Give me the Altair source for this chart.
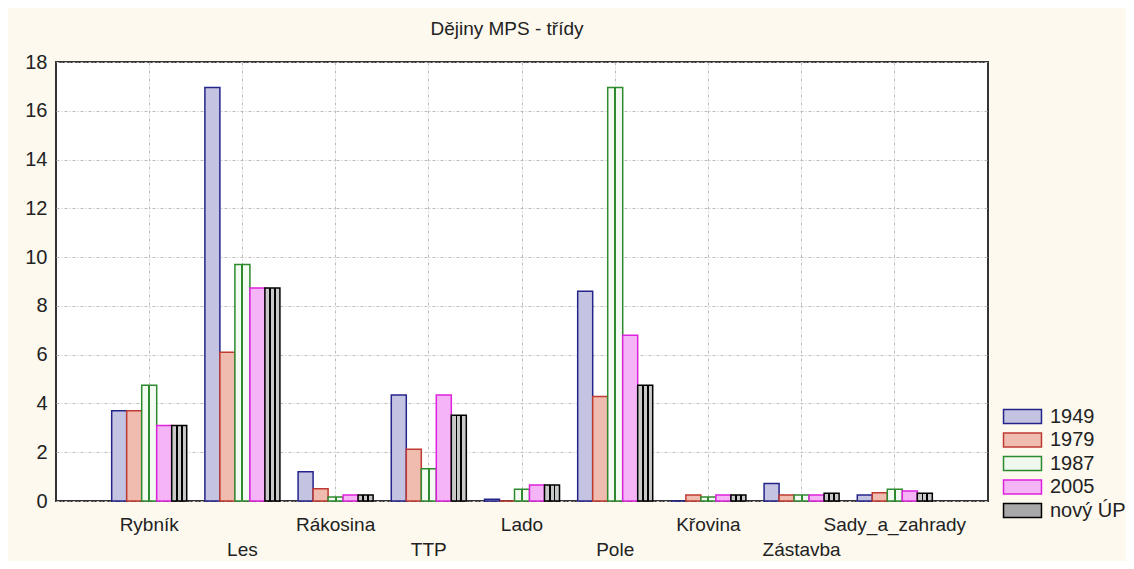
import altair as alt
import pandas as pd

categories = ["Rybník", "Les", "Rákosina", "TTP", "Lado", "Pole",
              "Křovina", "Zástavba", "Sady_a_zahrady"]
years = ["1949", "1979", "1987", "2005", "nový ÚP"]

v1949 = [3.7, 16.95, 1.2, 4.35, 0.07, 8.6, 0.0, 0.72, 0.25]
v1979 = [3.7, 6.1, 0.5, 2.12, 0.0, 4.28, 0.25, 0.25, 0.34]
v1987 = [4.75, 9.7, 0.16, 1.32, 0.48, 16.95, 0.16, 0.25, 0.48]
v2005 = [3.1, 8.73, 0.25, 4.35, 0.66, 6.8, 0.25, 0.25, 0.41]
vnovy = [3.1, 8.73, 0.25, 3.52, 0.66, 4.75, 0.25, 0.32, 0.32]

series = [v1949, v1979, v1987, v2005, vnovy]
rows = []
for rok, vals in zip(years, series):
    for c, v in zip(categories, vals):
        rows.append({"trida": c, "rok": rok, "hodnota": v})
df = pd.DataFrame(rows)

stroke_colors = ["#24248a", "#bf3a30", "#2e8a2e", "#dd22dd", "#000000"]
fill_colors = ["#c4c4e2", "#f0bcb0", "#eef8ee", "#f5b4f5", "#a8a8a8"]


def stripes(bg, line, centers, half):
    stops = [{"offset": 0, "color": bg}]
    for c in centers:
        stops += [
            {"offset": c - half, "color": bg},
            {"offset": c - half, "color": line},
            {"offset": c + half, "color": line},
            {"offset": c + half, "color": bg},
        ]
    stops.append({"offset": 1, "color": bg})
    return {"gradient": "linear", "x1": 0, "y1": 0, "x2": 1, "y2": 0, "stops": stops}


grad87 = stripes("#f3fbf3", "#2e8a2e", [0.5], 0.06)
grad_novy = stripes("#c8c8c8", "#000000", [0.34, 0.67], 0.06)

FONT = "Liberation Sans"
FS = 20
TXT = "#222222"
shape = "M-1.65,-0.6H1.65V0.6H-1.65Z"

legend = alt.Legend(
    title=None, orient="none", legendX=954, legendY=342,
    symbolType=shape, symbolSize=529, symbolStrokeWidth=1.5,
    labelFont=FONT, labelFontSize=FS, labelColor=TXT,
    labelOffset=15, rowPadding=0.5, padding=0,
)

grid_kw = dict(grid=True, gridColor="#bdbdbd", gridDash=[3, 2, 1, 2], gridWidth=1)

bars = alt.Chart(df).mark_bar(strokeWidth=1.5).encode(
    x=alt.X("trida:N", sort=categories, title=None,
            scale=alt.Scale(paddingInner=0.195, paddingOuter=0.5975),
            axis=alt.Axis(
                labelAngle=0, ticks=False, domain=False, labelPadding=14,
                labelFont=FONT, labelFontSize=19, labelColor=TXT,
                labelLineHeight=25, labelBaseline="top",
                labelExpr="indexof(['Les','TTP','Pole','Zástavba'], datum.value) >= 0 ? ['', datum.label] : datum.label",
                **grid_kw,
            )),
    xOffset=alt.XOffset("rok:N", sort=years,
                        scale=alt.Scale(domain=years, paddingInner=0, paddingOuter=0)),
    y=alt.Y("hodnota:Q", title=None,
            scale=alt.Scale(domain=[0, 18], nice=False),
            axis=alt.Axis(
                values=list(range(0, 19, 2)), ticks=False, domain=False, labelPadding=9,
                labelFont=FONT, labelFontSize=FS, labelColor=TXT,
                **grid_kw,
            )),
    fill=alt.Fill("rok:N", sort=years,
                  scale=alt.Scale(domain=years, range=fill_colors),
                  legend=legend,
                  condition=[
                      {"test": "datum.rok === '1987'", "value": grad87},
                      {"test": "datum.rok === 'nový ÚP'", "value": grad_novy},
                  ]),
    stroke=alt.Stroke("rok:N", sort=years,
                      scale=alt.Scale(domain=years, range=stroke_colors),
                      legend=legend),
)

chart = bars.properties(
    width=932, height=439,
    title=alt.Title("Dějiny MPS - třídy", font=FONT, fontSize=19, fontWeight="normal",
                    color=TXT, anchor="middle", dx=-15, offset=13),
    autosize=alt.AutoSizeParams(type="none"),
    padding={"left": 48, "top": 54, "right": 138, "bottom": 60},
).configure(
    background="#fdf9ee",
).configure_view(
    fill="white", stroke="#333333", strokeWidth=2,
)

chart.save("out.html", embed_options={"renderer": "svg", "actions": False})
